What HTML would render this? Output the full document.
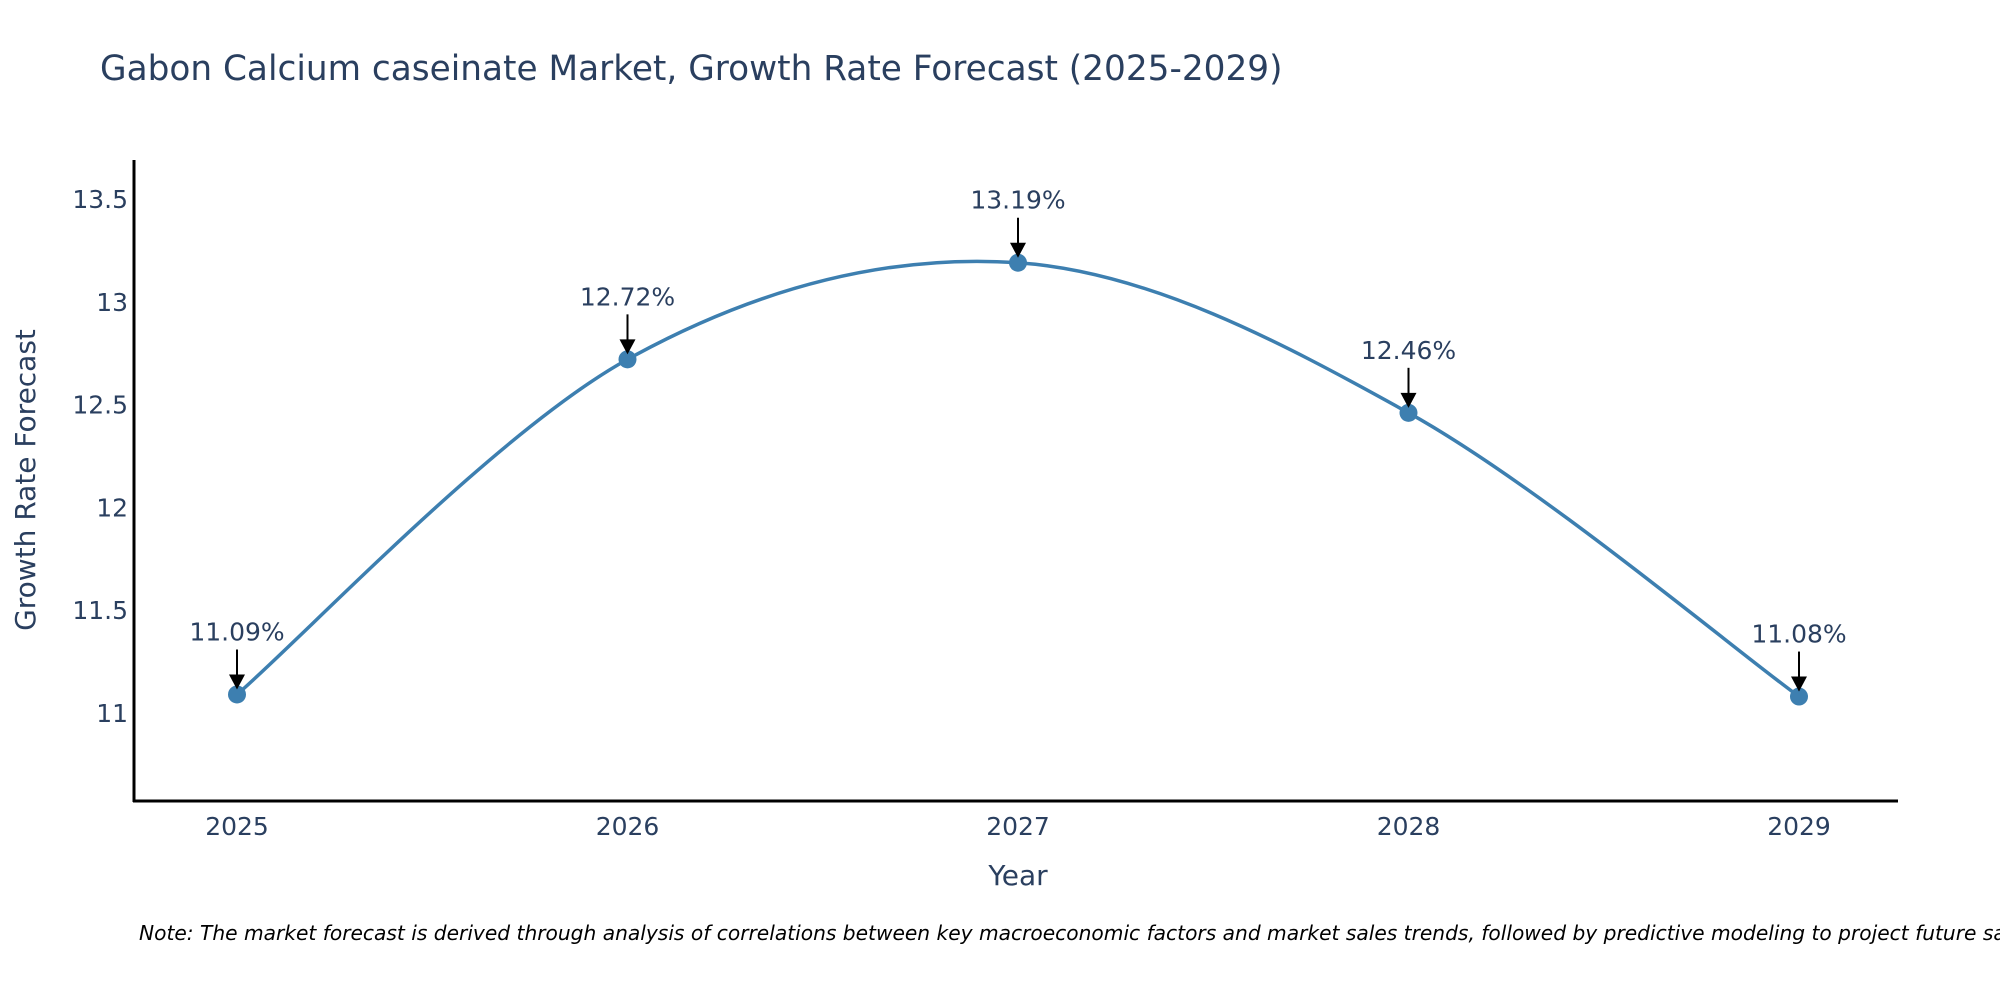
<!DOCTYPE html>
<html><head><meta charset="utf-8"><style>
body{margin:0;background:#fff;width:2000px;height:1000px;overflow:hidden;font-family:"Liberation Sans","DejaVu Sans",sans-serif}
svg text{font-family:"DejaVu Sans","Liberation Sans",sans-serif;fill:#2a3f5f}
</style></head><body>
<svg id="chart" width="2000" height="1000" xmlns="http://www.w3.org/2000/svg">
<text x="100" y="80" font-size="34.3">Gabon Calcium caseinate Market, Growth Rate Forecast (2025-2029)</text>
<g id="yticks"></g>
<g id="xticks"></g>
<line x1="134" y1="160" x2="134" y2="802" stroke="#000" stroke-width="3"/>
<line x1="133" y1="801" x2="1898" y2="801" stroke="#000" stroke-width="3"/>
<text transform="translate(35,480) rotate(-90)" text-anchor="middle" font-size="28">Growth Rate Forecast</text>
<text x="1018" y="885" text-anchor="middle" font-size="28">Year</text>
<g id="series"></g>
<text x="139" y="940" font-size="20.2" font-style="italic" style="fill:#000">Note: The market forecast is derived through analysis of correlations between key macroeconomic factors and market sales trends, followed by predictive modeling to project future sales.</text>
</svg>
<script>
const years = ['2025','2026','2027','2028','2029'];
const values = [11.09, 12.72, 13.19, 12.46, 11.08];
const labels = ['11.09%','12.72%','13.19%','12.46%','11.08%'];
const yTicks = [11, 11.5, 12, 12.5, 13, 13.5];
const yTickLabels = ['11','11.5','12','12.5','13','13.5'];

const NS='http://www.w3.org/2000/svg';
const x = i => 237 + i*390.5;
const y = v => 713 - (v-11)*205.6;
function mk(tag, attrs, parent){const e=document.createElementNS(NS,tag);for(const k in attrs)e.setAttribute(k,attrs[k]);parent.appendChild(e);return e;}
const yt=document.getElementById('yticks'), xt=document.getElementById('xticks'), sg=document.getElementById('series');
yTicks.forEach((t,i)=>{const e=mk('text',{x:128,y:y(t)+9,'text-anchor':'end','font-size':25},yt);e.textContent=yTickLabels[i];

});
years.forEach((yr,i)=>{const e=mk('text',{x:x(i),y:835,'text-anchor':'middle','font-size':25},xt);e.textContent=yr;

});
const pts=values.map((v,i)=>[x(i),y(v)]);
let d='M'+pts[0][0]+','+pts[0][1];
const s=1/6;
for(let i=0;i<pts.length-1;i++){
 const p0=pts[Math.max(i-1,0)],p1=pts[i],p2=pts[i+1],p3=pts[Math.min(i+2,pts.length-1)];
 const c1=[p1[0]+(p2[0]-p0[0])*s, p1[1]+(p2[1]-p0[1])*s];
 const c2=[p2[0]-(p3[0]-p1[0])*s, p2[1]-(p3[1]-p1[1])*s];
 d+=` C${c1[0]},${c1[1]} ${c2[0]},${c2[1]} ${p2[0]},${p2[1]}`;
}
const line=mk('path',{d:d,fill:'none',stroke:'#3d7fb0','stroke-width':3.5},sg);


pts.forEach((p,i)=>{
 const c=mk('circle',{cx:p[0],cy:p[1],r:9,fill:'#3d7fb0'},sg);
 
 
 mk('line',{x1:p[0],y1:p[1]-45,x2:p[0],y2:p[1]-16,stroke:'#000','stroke-width':2},sg);
 mk('polygon',{points:`${p[0]-8},${p[1]-20} ${p[0]+8},${p[1]-20} ${p[0]},${p[1]-5}`,fill:'#000'},sg);
 const t=mk('text',{x:p[0],y:p[1]-54,'text-anchor':'middle','font-size':25},sg);t.textContent=labels[i];
 
 
});
</script>
</body></html>
